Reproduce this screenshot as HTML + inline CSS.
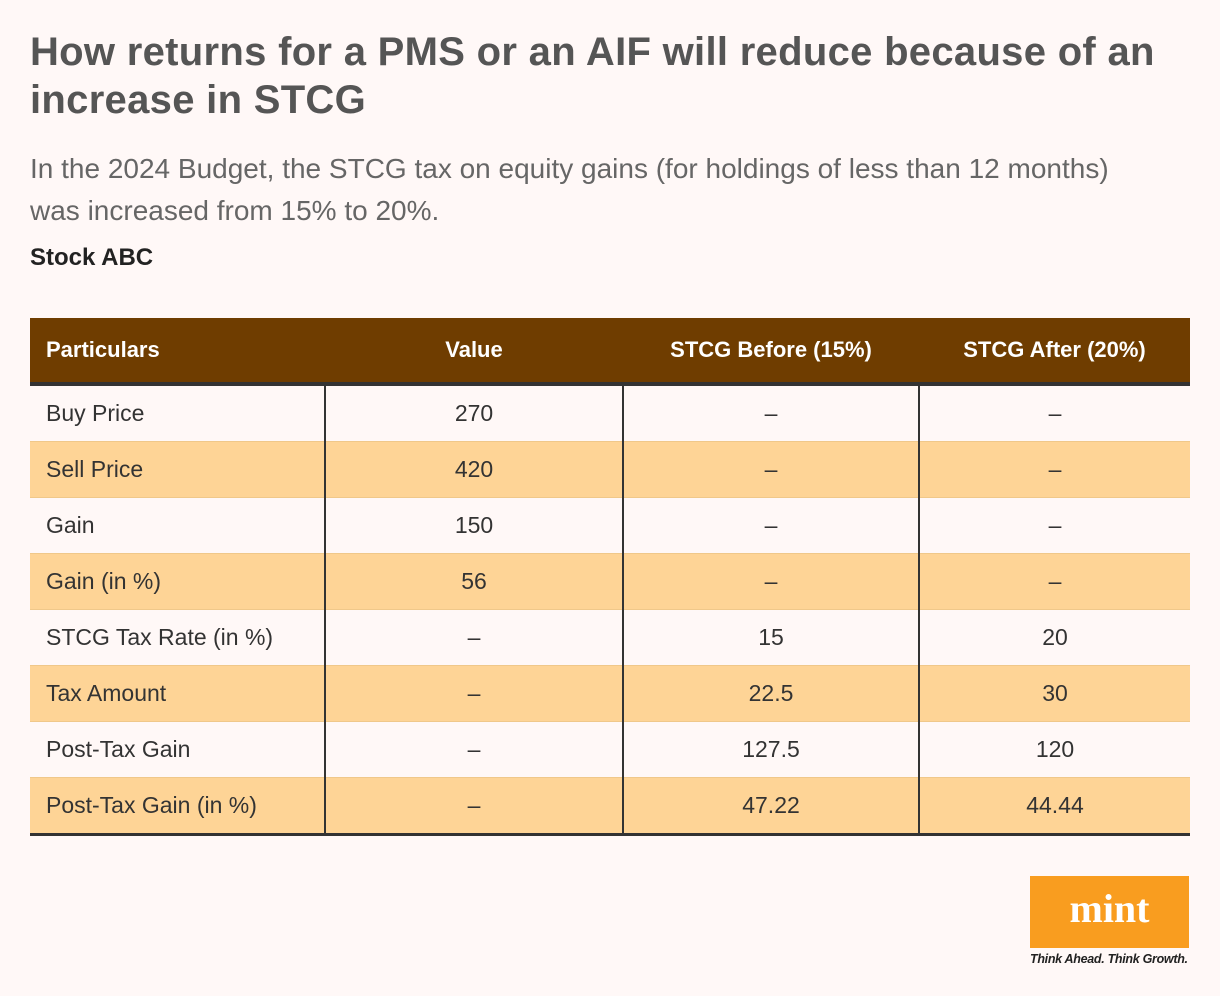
<!DOCTYPE html>
<html><head><meta charset="utf-8"><style>
body{margin:0;width:1220px;height:996px;background:#fff8f7;font-family:"Liberation Sans",sans-serif;position:relative;overflow:hidden}
.a{position:absolute}
h1{position:absolute;left:30px;top:28px;margin:0;font-size:40px;line-height:48px;font-weight:bold;color:#555;width:1180px;letter-spacing:0.3px}
.sub{left:30px;top:148px;font-size:28px;line-height:42px;color:#666;width:1110px}
.st{left:30px;top:244px;font-size:24px;font-weight:bold;color:#222}
table{position:absolute;left:30px;top:318px;width:1160px;border-collapse:collapse;font-size:23px;color:#333}
th{background:#6f3d00;color:#fff;height:64px;font-size:22px;text-align:center;padding:0;border-bottom:4px solid #333}
th:first-child{text-align:left;padding-left:16px}
td{height:55px;padding:0;text-align:center;border-left:2px solid #333;border-top:1px solid #f0c88a}
td:first-child{text-align:left;padding-left:16px;border-left:none}
tr.o td{background:#fed496}
tbody tr:last-child td{border-bottom:3px solid #333}
</style></head><body>
<h1>How returns for a PMS or an AIF will reduce because of an increase in STCG</h1>
<div class="a sub">In the 2024 Budget, the STCG tax on equity gains (for holdings of less than 12 months) was increased from 15% to 20%.</div>
<div class="a st">Stock ABC</div>
<table>
<colgroup><col style="width:295px"><col style="width:298px"><col style="width:296px"><col style="width:271px"></colgroup>
<thead><tr><th>Particulars</th><th>Value</th><th>STCG Before (15%)</th><th>STCG After (20%)</th></tr></thead>
<tbody>
<tr><td>Buy Price</td><td>270</td><td>–</td><td>–</td></tr>
<tr class="o"><td>Sell Price</td><td>420</td><td>–</td><td>–</td></tr>
<tr><td>Gain</td><td>150</td><td>–</td><td>–</td></tr>
<tr class="o"><td>Gain (in %)</td><td>56</td><td>–</td><td>–</td></tr>
<tr><td>STCG Tax Rate (in %)</td><td>–</td><td>15</td><td>20</td></tr>
<tr class="o"><td>Tax Amount</td><td>–</td><td>22.5</td><td>30</td></tr>
<tr><td>Post-Tax Gain</td><td>–</td><td>127.5</td><td>120</td></tr>
<tr class="o"><td>Post-Tax Gain (in %)</td><td>–</td><td>47.22</td><td>44.44</td></tr>
</tbody></table>
<div class="a" style="left:1030px;top:876px;width:159px;height:72px;background:#f99d1f;color:#fff;font-family:'Liberation Serif',serif;font-weight:bold;font-size:40px;text-align:center;line-height:66px">mint</div>
<div class="a" style="left:1030px;top:952px;font-size:12.5px;font-style:italic;font-weight:bold;color:#222;letter-spacing:-0.3px">Think Ahead. Think Growth.</div>
</body></html>
